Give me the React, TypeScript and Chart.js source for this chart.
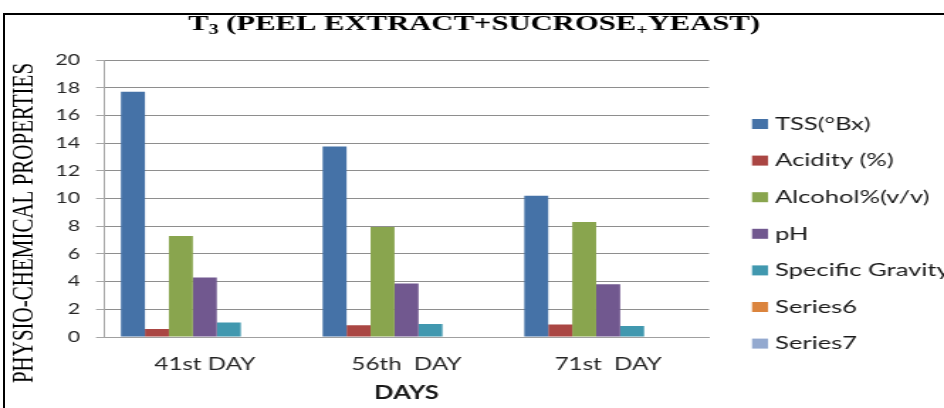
import React, { useEffect, useRef } from "react";
import { Chart, registerables } from "chart.js";

Chart.register(...registerables);

// ---- data ----
const categories = ["41st DAY", "56th  DAY", "71st  DAY"];
const seriesNames = ["TSS(°Bx)", "Acidity (%)", "Alcohol%(v/v)", "pH", "Specific Gravity", "Series6", "Series7"];
const tss = [17.7, 13.75, 10.2];
const acidity = [0.58, 0.85, 0.9];
const alcohol = [7.3, 7.95, 8.3];
const ph = [4.3, 3.86, 3.8];
const specificGravity = [1.05, 0.93, 0.8];
const series6: (number | null)[] = [null, null, null];
const series7: (number | null)[] = [null, null, null];
const seriesColors = ["#4572A7", "#AA4643", "#89A54E", "#71588F", "#4198AF", "#DB843D", "#93A9CF"];
const yMin = 0;
const yMax = 20;
const yStep = 2;
const titleParts = [
  { text: "T", sub: false },
  { text: "3", sub: true },
  { text: " (PEEL EXTRACT+SUCROSE", sub: false },
  { text: "+", sub: true },
  { text: "YEAST)", sub: false },
];
const yTitle = "PHYSIO-CHEMICAL PROPERTIES";
const xTitle = "DAYS";

// drawing buffer is narrower than the page; it is stretched horizontally
const PAGE_W = 944;
const PAGE_H = 408;
const BUF_W = 665;
const SX = PAGE_W / BUF_W;
const bx = (pageX: number) => pageX / SX;

const textPlugin = {
  id: "extraText",
  afterDraw(chart: any) {
    const ctx = chart.ctx as CanvasRenderingContext2D;
    ctx.save();
    // main title with subscripts
    const bigFont = "bold 21.6px 'Liberation Serif', serif";
    const smallFont = "bold 14px 'Liberation Serif', serif";
    let total = 0;
    for (const p of titleParts) {
      ctx.font = p.sub ? smallFont : bigFont;
      total += ctx.measureText(p.text).width;
    }
    let x = bx(474) - total / 2;
    const baseY = 30;
    ctx.fillStyle = "#000";
    ctx.textBaseline = "alphabetic";
    ctx.textAlign = "left";
    for (const p of titleParts) {
      ctx.font = p.sub ? smallFont : bigFont;
      ctx.fillText(p.text, x, p.sub ? baseY + 4 : baseY);
      x += ctx.measureText(p.text).width;
    }
    // y axis title
    ctx.save();
    ctx.translate(bx(33), 223);
    ctx.rotate(-Math.PI / 2);
    ctx.font = "21px 'Liberation Serif', serif";
    ctx.textAlign = "center";
    ctx.textBaseline = "alphabetic";
    ctx.fillStyle = "#000";
    ctx.fillText(yTitle, 0, 0);
    ctx.restore();
    // legend
    const ds = chart.data.datasets;
    ctx.font = "18px Lato, sans-serif";
    ctx.textBaseline = "middle";
    ctx.textAlign = "left";
    for (let i = 0; i < ds.length; i++) {
      const cy = 124 + i * 36.6;
      ctx.fillStyle = ds[i].backgroundColor;
      ctx.fillRect(bx(752), cy - 5, bx(768) - bx(752), 10);
      ctx.fillStyle = "#1a1a1a";
      ctx.fillText(ds[i].label, bx(775), cy);
    }
    ctx.restore();
  },
};

export default function App() {
  const ref = useRef<HTMLCanvasElement>(null);
  useEffect(() => {
    if (!ref.current) return;
    const datasets = [tss, acidity, alcohol, ph, specificGravity, series6, series7].map((d, i) => ({
      label: seriesNames[i],
      data: d,
      backgroundColor: seriesColors[i],
      borderWidth: 0,
      categoryPercentage: 0.832,
      barPercentage: 1,
    }));
    const chart = new Chart(ref.current, {
      type: "bar",
      data: { labels: categories, datasets },
      plugins: [textPlugin],
      options: {
        animation: false,
        responsive: false,
        devicePixelRatio: 1,
        layout: { padding: { top: 60, left: 0, right: BUF_W - bx(709), bottom: 0 } },
        plugins: { legend: { display: false }, title: { display: false }, tooltip: { enabled: false } },
        scales: {
          x: {
            grid: { display: false, drawTicks: false },
            border: { color: "#a0a0a0", width: 1 },
            ticks: { font: { family: "Lato", size: 17 }, color: "#262626", padding: 17 },
            title: {
              display: true,
              text: xTitle,
              font: { family: "Lato", size: 18, weight: "bold" },
              color: "#1a1a1a",
              padding: { top: 0, bottom: 4 },
            },
            afterFit: (s: any) => {
              s.height = PAGE_H - 337;
            },
          },
          y: {
            min: yMin,
            max: yMax,
            ticks: { stepSize: yStep, font: { family: "Lato", size: 15 }, color: "#262626", padding: bx(104) - bx(8) - bx(80) },
            grid: { color: "#8e8e8e", tickColor: "#a6a6a6", tickLength: bx(8), lineWidth: 1 },
            border: { color: "#a6a6a6", width: 1 },
            afterFit: (s: any) => {
              s.width = bx(104);
            },
          },
        },
      },
    });
    return () => chart.destroy();
  }, []);
  return (
    <div style={{ position: "fixed", left: 0, top: 0, width: PAGE_W, height: PAGE_H, background: "#fff", overflow: "hidden" }}>
      <canvas
        ref={ref}
        width={BUF_W}
        height={PAGE_H}
        style={{ width: PAGE_W + "px", height: PAGE_H + "px", display: "block" }}
      />
      <div style={{ position: "absolute", left: 3, top: 13, right: 0, bottom: 0, borderTop: "2px solid #000", borderLeft: "2px solid #000" }} />
    </div>
  );
}
